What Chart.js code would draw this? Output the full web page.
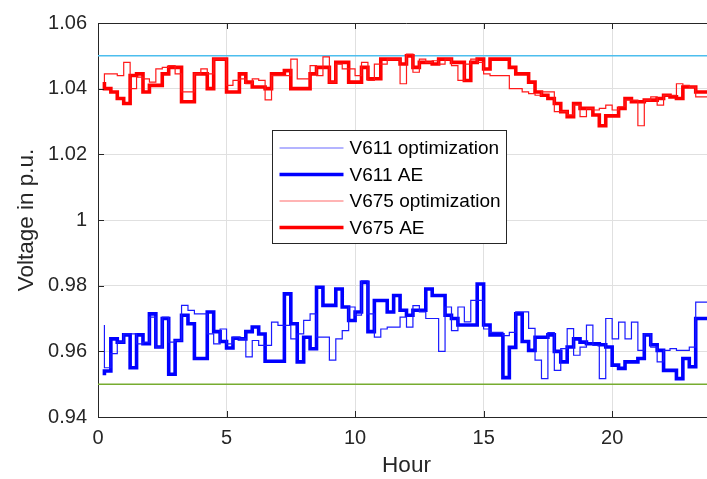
<!DOCTYPE html>
<html>
<head>
<meta charset="utf-8">
<title>Voltage in p.u.</title>
<script src="https://cdn.jsdelivr.net/npm/chart.js@4.4.1/dist/chart.umd.min.js"></script>
<style>
    html, body { margin: 0; padding: 0; background: #fff; overflow: hidden; }
    #wrap { width: 717px; height: 479px; }
</style>
</head>
<body>
<div id="wrap"><canvas id="voltageChart" width="717" height="479"></canvas></div>
<script>
// Trục thời gian: bước 15 phút, từ 0.25 h đến 24 h
const hours = Array.from({ length: 96 }, (_, i) => (i + 1) * 0.25);

// V611 (nút 611)
const v611Opt = [
    0.968, 0.955, 0.9593,
    0.9628, 0.9653, 0.9653, 0.9623,
    0.9628, 0.9704, 0.9613, 0.9704,
    0.9628, 0.9633, 0.974, 0.9725,
    0.9714, 0.9714, 0.9653, 0.9623,
    0.9668, 0.9623, 0.9643, 0.9638,
    0.9583, 0.9633, 0.9618, 0.9618,
    0.9689, 0.9679, 0.9679, 0.9638,
    0.9653, 0.9694, 0.9714, 0.9643,
    0.9643, 0.9573, 0.9638, 0.9663,
    0.9735, 0.971, 0.9815, 0.9714,
    0.9643, 0.9668, 0.9674, 0.9674,
    0.9704, 0.9674, 0.9739, 0.972,
    0.970, 0.970, 0.960, 0.9735,
    0.9663, 0.9735, 0.969, 0.9755,
    0.9755, 0.9668, 0.9658, 0.9658,
    0.9648, 0.9658, 0.972, 0.972,
    0.967, 0.9573, 0.9517, 0.9657,
    0.9542, 0.9608, 0.9669, 0.9588,
    0.9613, 0.968, 0.9618, 0.9517,
    0.970, 0.9638, 0.9689, 0.9638,
    0.9689, 0.9603, 0.9653, 0.9613,
    0.9568, 0.9603, 0.9608, 0.9603,
    0.9603, 0.9613, 0.975, 0.975,
    0.975
];
const v611Ae = [
    0.9527, 0.954, 0.9638,
    0.9628, 0.965, 0.955, 0.965,
    0.9623, 0.9714, 0.9613, 0.970,
    0.953, 0.9633, 0.971, 0.9684,
    0.9578, 0.9578, 0.972, 0.966,
    0.963, 0.961, 0.964, 0.9638,
    0.966, 0.9674, 0.9653, 0.957,
    0.957, 0.957, 0.9775, 0.9684,
    0.9568, 0.9643, 0.9608, 0.9795,
    0.974, 0.974, 0.979, 0.9735,
    0.9694, 0.972, 0.981, 0.966,
    0.9755, 0.9755, 0.972, 0.977,
    0.9725, 0.971, 0.9725, 0.9725,
    0.979, 0.977, 0.977, 0.971,
    0.970, 0.968, 0.968, 0.968,
    0.9805, 0.968, 0.965, 0.965,
    0.952, 0.9612, 0.9714, 0.963,
    0.9603, 0.9643, 0.9643, 0.965,
    0.960, 0.9568, 0.9613, 0.9638,
    0.9628, 0.9623, 0.9623, 0.962,
    0.9613, 0.9558, 0.9548, 0.9568,
    0.9568, 0.9578, 0.965, 0.962,
    0.9603, 0.9542, 0.9542, 0.9517,
    0.9578, 0.9553, 0.970, 0.970,
    0.970
];

// V675 (nút 675)
const v675Opt = [
    1.042, 1.0445, 1.0445,
    1.044, 1.048, 1.040, 1.0435,
    1.043, 1.042, 1.046, 1.0465,
    1.047, 1.0445, 1.039, 1.039,
    1.0445, 1.046, 1.0445, 1.049,
    1.049, 1.041, 1.0425, 1.043,
    1.0415, 1.043, 1.0425, 1.0366,
    1.044, 1.044, 1.044, 1.049,
    1.043, 1.043, 1.047, 1.044,
    1.0497, 1.042, 1.0475, 1.046,
    1.046, 1.044, 1.048, 1.0425,
    1.0475, 1.0475, 1.049, 1.049,
    1.0415, 1.0505, 1.045, 1.049,
    1.048, 1.0485, 1.0475, 1.049,
    1.047, 1.0425, 1.0475, 1.049,
    1.048, 1.0445, 1.044, 1.044,
    1.044, 1.040, 1.040, 1.039,
    1.0385, 1.038, 1.039, 1.039,
    1.033, 1.033, 1.032, 1.035,
    1.0315, 1.034, 1.0335, 1.034,
    1.035, 1.0335, 1.0345, 1.0365,
    1.0365, 1.0287, 1.0365, 1.0375,
    1.035, 1.038, 1.038, 1.0415,
    1.041, 1.0405, 1.0375, 1.0375,
    1.0375
];
const v675Ae = [
    1.042, 1.040, 1.039,
    1.037, 1.0355, 1.044, 1.0445,
    1.039, 1.041, 1.041, 1.0445,
    1.0465, 1.0465, 1.036, 1.036,
    1.0445, 1.0445, 1.040, 1.049,
    1.049, 1.039, 1.039, 1.0445,
    1.042, 1.0405, 1.0405, 1.040,
    1.0445, 1.0445, 1.0455, 1.040,
    1.040, 1.040, 1.0445, 1.0465,
    1.0465, 1.042, 1.048, 1.048,
    1.042, 1.042, 1.0465, 1.043,
    1.043, 1.049, 1.049, 1.049,
    1.0475, 1.050, 1.0465, 1.048,
    1.048, 1.0475, 1.049, 1.049,
    1.048, 1.048, 1.0425, 1.048,
    1.049, 1.046, 1.049, 1.049,
    1.049, 1.0465, 1.0445, 1.0445,
    1.042, 1.039, 1.038, 1.037,
    1.0355, 1.033, 1.0315, 1.0355,
    1.034, 1.034, 1.032, 1.0287,
    1.0317, 1.0317, 1.034, 1.037,
    1.036, 1.036, 1.0365, 1.0365,
    1.037, 1.038, 1.0375, 1.037,
    1.0405, 1.0405, 1.039, 1.039,
    1.039
];

// Giới hạn điện áp
const limitHours = [0, 24];
const upperLimit = [1.05, 1.05];
const lowerLimit = [0.95, 0.95];

// Nhãn trục
const xTicks = [0, 5, 10, 15, 20];
const yTicks = [0.94, 0.96, 0.98, 1, 1.02, 1.04, 1.06];
const yTickLabels = ['0.94', '0.96', '0.98', '1', '1.02', '1.04', '1.06'];

const FONT = '"Liberation Sans", Arial, Helvetica, sans-serif';
const TEXT = '#262626';

function toPoints(xs, ys) {
    return xs.map((x, i) => ({ x: x, y: ys[i] }));
}

// Khung kiểu MATLAB + chú thích
const matlabFrame = {
    id: 'matlabFrame',
    afterDraw(chart) {
        const { ctx, chartArea: a, scales } = chart;
        ctx.save();
        ctx.strokeStyle = TEXT;
        ctx.lineWidth = 1;
        ctx.beginPath();
        ctx.moveTo(a.left, a.top + 0.5);
        ctx.lineTo(a.right, a.top + 0.5);
        ctx.moveTo(a.right - 0.5, a.top);
        ctx.lineTo(a.right - 0.5, a.bottom);
        yTicks.forEach(v => {
            const y = Math.round(scales.y.getPixelForValue(v)) + 0.5;
            ctx.moveTo(a.left, y);
            ctx.lineTo(a.left + 6, y);
            ctx.moveTo(a.right, y);
            ctx.lineTo(a.right - 6, y);
        });
        xTicks.forEach(v => {
            const x = Math.round(scales.x.getPixelForValue(v)) + 0.5;
            ctx.moveTo(x, a.bottom);
            ctx.lineTo(x, a.bottom - 6);
            ctx.moveTo(x, a.top);
            ctx.lineTo(x, a.top + 6);
        });
        ctx.stroke();

        // Chú thích
        const items = chart.data.datasets.filter(d => d.label);
        const box = { x: 272.5, y: 130.5, w: 234, h: 113 };
        ctx.fillStyle = '#fff';
        ctx.fillRect(box.x, box.y, box.w, box.h);
        ctx.strokeStyle = TEXT;
        ctx.lineWidth = 1;
        ctx.strokeRect(box.x, box.y, box.w, box.h);
        ctx.font = '19px ' + FONT;
        ctx.textBaseline = 'middle';
        ctx.textAlign = 'left';
        items.forEach((d, i) => {
            const y = box.y + 17.5 + i * 26.5;
            ctx.beginPath();
            ctx.strokeStyle = d.legendColor || d.borderColor;
            ctx.lineWidth = d.borderWidth;
            ctx.moveTo(box.x + 7, y);
            ctx.lineTo(box.x + 71, y);
            ctx.stroke();
            ctx.fillStyle = '#000';
            ctx.fillText(d.label, box.x + 77, y + 1);
        });
        ctx.restore();
    }
};

const stepLine = {
    stepped: 'after',
    pointRadius: 0,
    fill: false,
    borderJoinStyle: 'miter'
};

new Chart(document.getElementById('voltageChart'), {
    type: 'line',
    data: {
        datasets: [
            { ...stepLine, label: 'V611 optimization', data: toPoints(hours, v611Opt), borderColor: '#1a1aff', legendColor: '#6b6bff', borderWidth: 1.2 },
            { ...stepLine, label: 'V611 AE', data: toPoints(hours, v611Ae), borderColor: '#0000ff', borderWidth: 3.6 },
            { ...stepLine, label: 'V675 optimization', data: toPoints(hours, v675Opt), borderColor: '#ff1a1a', legendColor: '#ff6b6b', borderWidth: 1.2 },
            { ...stepLine, label: 'V675 AE', data: toPoints(hours, v675Ae), borderColor: '#ff0000', borderWidth: 3.6 },
            { ...stepLine, stepped: false, label: '', data: toPoints(limitHours, upperLimit), borderColor: '#4dbeee', borderWidth: 1.5 },
            { ...stepLine, stepped: false, label: '', data: toPoints(limitHours, lowerLimit), borderColor: '#77ac30', borderWidth: 1.5 }
        ]
    },
    options: {
        responsive: false,
        animation: false,
        layout: { padding: { top: 21, right: 2, left: 0, bottom: 0 } },
        plugins: {
            legend: { display: false },
            tooltip: { enabled: false }
        },
        scales: {
            x: {
                type: 'linear',
                min: 0,
                max: 24,
                afterBuildTicks: s => { s.ticks = xTicks.map(v => ({ value: v })); },
                afterFit: s => { s.height = 62; },
                grid: { color: '#e0e0e0', drawTicks: false },
                border: { color: TEXT, width: 1 },
                ticks: {
                    padding: 9,
                    color: TEXT,
                    maxRotation: 0,
                    font: { family: FONT, size: 20 },
                    callback: v => String(v)
                },
                title: {
                    display: true,
                    text: 'Hour',
                    color: TEXT,
                    font: { family: FONT, size: 22.5 },
                    padding: { top: 0, bottom: 0 }
                }
            },
            y: {
                type: 'linear',
                min: 0.94,
                max: 1.06,
                afterBuildTicks: s => { s.ticks = yTicks.map(v => ({ value: v })); },
                afterFit: s => { s.width = 98; },
                grid: { color: '#e0e0e0', drawTicks: false },
                border: { color: TEXT, width: 1 },
                ticks: {
                    padding: 11,
                    color: TEXT,
                    font: { family: FONT, size: 20 },
                    callback: (v, i) => yTickLabels[i]
                },
                title: {
                    display: true,
                    text: 'Voltage in p.u.',
                    color: TEXT,
                    font: { family: FONT, size: 22.5 },
                    padding: { top: 13, bottom: 0 }
                }
            }
        }
    },
    plugins: [matlabFrame]
});
</script>
</body>
</html>
